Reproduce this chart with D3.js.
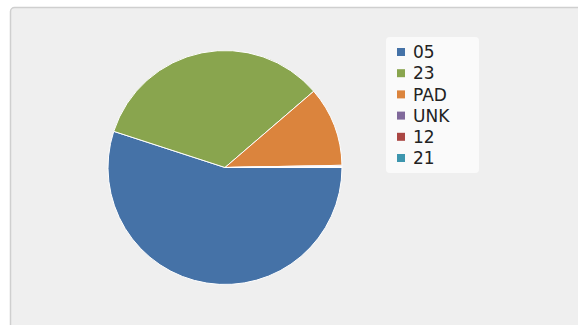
<!DOCTYPE html>
<html>
<head>
<meta charset="utf-8">
<script src="https://cdn.jsdelivr.net/npm/d3@7"></script>
<style>
  html, body { margin: 0; padding: 0; background: #ffffff; }
  svg { display: block; }
</style>
</head>
<body>
<svg id="chart" width="578" height="325"></svg>
<script>
// Share of records per code
const categories = ["05", "23", "PAD", "UNK", "12", "21"];
const values = [55.0, 33.7, 11.0, 0.15, 0.1, 0.05];
const colors = ["#4572A7", "#89A54E", "#DB843D", "#80699B", "#AA4643", "#3D96AE"];

const svg = d3.select("#chart");
const W = 578, H = 325;

// Chart panel (extends past the right and bottom edges)
svg.append("rect")
  .attr("x", 10.5).attr("y", 7.5)
  .attr("width", W + 20).attr("height", H + 20)
  .attr("rx", 4)
  .attr("fill", "#efefef")
  .attr("stroke", "#cfcfcf")
  .attr("stroke-width", 1.5);

// Pie
const cx = 225, cy = 167.5, r = 117;
const pie = d3.pie().sort(null)
  .startAngle(Math.PI / 2)
  .endAngle(Math.PI / 2 + 2 * Math.PI)
  .value(d => d.value);
const arc = d3.arc().innerRadius(0).outerRadius(r);

const data = categories.map((c, i) => ({ name: c, value: values[i], color: colors[i] }));

svg.append("g")
  .attr("transform", `translate(${cx},${cy})`)
  .selectAll("path")
  .data(pie(data))
  .join("path")
  .attr("d", arc)
  .attr("fill", d => d.data.color)
  .attr("stroke", "#ffffff")
  .attr("stroke-width", 1)
  .attr("stroke-linejoin", "round");

// Legend
const legend = svg.append("g");
legend.append("rect")
  .attr("x", 386).attr("y", 37)
  .attr("width", 93).attr("height", 136)
  .attr("rx", 4)
  .attr("fill", "#fafafa");

const rowY = d3.scalePoint().domain(categories).range([52, 158]);

const items = legend.selectAll("g.item")
  .data(data)
  .join("g")
  .attr("class", "item")
  .attr("transform", d => `translate(0,${rowY(d.name)})`);

items.append("rect")
  .attr("x", 397).attr("y", -4)
  .attr("width", 8).attr("height", 8)
  .attr("fill", d => d.color);

items.append("text")
  .attr("x", 413).attr("y", 0)
  .attr("dy", "0.36em")
  .attr("font-family", "DejaVu Sans, Verdana, sans-serif")
  .attr("font-size", 17)
  .attr("fill", "#222222")
  .text(d => d.name);
</script>
</body>
</html>
